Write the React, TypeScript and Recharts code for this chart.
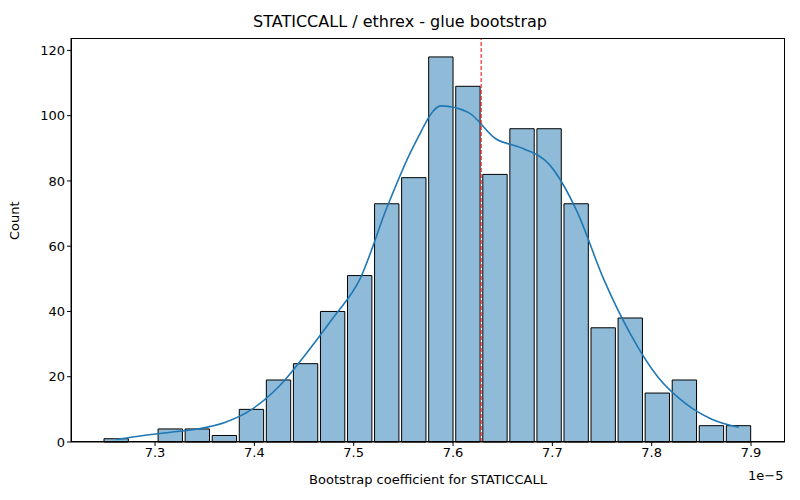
import { Bar, ComposedChart, Line, ReferenceLine, XAxis, YAxis } from "recharts";

const binStart = 7.2476;
const binWidth = 0.02724;
const counts = [1, 0, 4, 4, 2, 10, 19, 24, 40, 51, 73, 81, 118, 109, 82, 96, 96, 73, 35, 38, 15, 19, 5, 5];
const kde = [0.8, 2, 3, 4, 6, 10, 17, 27, 38, 50, 72, 91, 103, 101, 93, 90, 85, 71, 50, 33, 20, 12, 7, 4.5];
const xTicks = [7.3, 7.4, 7.5, 7.6, 7.7, 7.8, 7.9];
const yTicks = [0, 20, 40, 60, 80, 100, 120];
const meanValue = 7.6283;

const data = counts.map((c, i) => ({
    x: binStart + binWidth * (i + 0.5),
    count: c,
    kde: kde[i],
}));

const xDomain: [number, number] = [7.2154, 7.9342];
const plotWidth = 714;
const barSize = (binWidth / (xDomain[1] - xDomain[0])) * plotWidth;
const font = "DejaVu Sans, sans-serif";

export default function App() {
    return (
        <div style={{ position: 'absolute', left: 0, top: 0, width: 800, height: 500, background: '#fff', fontFamily: font }}>
            <div style={{ position: 'absolute', top: 12, width: 800, textAlign: 'center', fontSize: 16 }}>
                STATICCALL / ethrex - glue bootstrap
            </div>
            <ComposedChart width={800} height={500} data={data} barGap={0} barCategoryGap={0}
                margin={{ top: 38, right: 15, left: 0, bottom: 0 }}>
                <XAxis dataKey="x" type="number" domain={xDomain} ticks={xTicks} height={58}
                    tickFormatter={(v) => v.toFixed(1)} tick={{ fill: '#000', fontSize: 13 }}
                    stroke="#000" tickSize={4}
                    label={{ value: 'Bootstrap coefficient for STATICCALL', position: 'insideBottom', offset: 16, fill: '#000', fontSize: 13 }} />
                <YAxis type="number" domain={[0, 123.8]} ticks={yTicks} width={71}
                    tick={{ fill: '#000', fontSize: 13 }} stroke="#000" tickSize={4}
                    label={{ value: 'Count', angle: -90, position: 'insideLeft', offset: 14, fill: '#000', fontSize: 13 }} />
                <Bar dataKey="count" fill="#8fbbd9" stroke="#000" strokeWidth={1} barSize={barSize} isAnimationActive={false} />
                <Line dataKey="kde" type="monotone" stroke="#1f77b4" strokeWidth={1.6} dot={false} isAnimationActive={false} />
                <ReferenceLine x={meanValue} stroke="#ff0000" strokeDasharray="4 2" strokeWidth={1} />
            </ComposedChart>
            <div style={{ position: 'absolute', left: 71, top: 38, width: 714, height: 404, border: '1px solid #000', boxSizing: 'border-box', pointerEvents: 'none' }} />
            <div style={{ position: 'absolute', left: 748, top: 468, fontSize: 13 }}>1e−5</div>
        </div>
    );
}
